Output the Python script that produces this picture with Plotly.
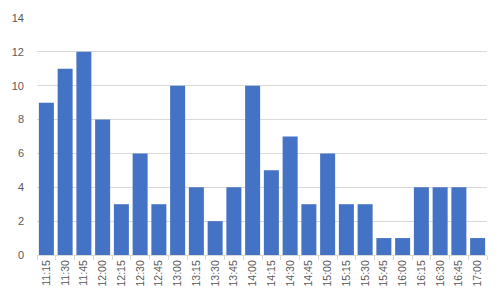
import plotly.graph_objects as go

categories = ["11:15", "11:30", "11:45", "12:00", "12:15", "12:30", "12:45", "13:00",
              "13:15", "13:30", "13:45", "14:00", "14:15", "14:30", "14:45", "15:00",
              "15:15", "15:30", "15:45", "16:00", "16:15", "16:30", "16:45", "17:00"]
values = [9, 11, 12, 8, 3, 6, 3, 10, 4, 2, 4, 10, 5, 7, 3, 6, 3, 3, 1, 1, 4, 4, 4, 1]
y_ticks = [0, 2, 4, 6, 8, 10, 12, 14]

fig = go.Figure(go.Bar(x=categories, y=values, marker_color="#4472C4",
                       marker_line_width=0))
fig.update_layout(
    width=500, height=300,
    margin=dict(l=36, r=13, t=16, b=45),
    paper_bgcolor="white", plot_bgcolor="white",
    bargap=0.2, showlegend=False,
    font=dict(family="Liberation Sans", size=10, color="#595959"),
)
fig.update_xaxes(type="category", tickangle=-90, showgrid=False,
                 showline=True, linecolor="#d9d9d9", linewidth=1,
                 ticks="outside", tickson="boundaries", ticklen=4,
                 tickcolor="#d9d9d9", tickfont=dict(size=10.5, color="#595959"))
fig.update_yaxes(range=[0, 14], tickvals=y_ticks, showgrid=True,
                 gridcolor="#d9d9d9", gridwidth=1, zeroline=False,
                 showline=False, ticks="", ticklabelstandoff=12,
                 tickfont=dict(size=11, color="#595959"))
fig.write_html("out.html")
